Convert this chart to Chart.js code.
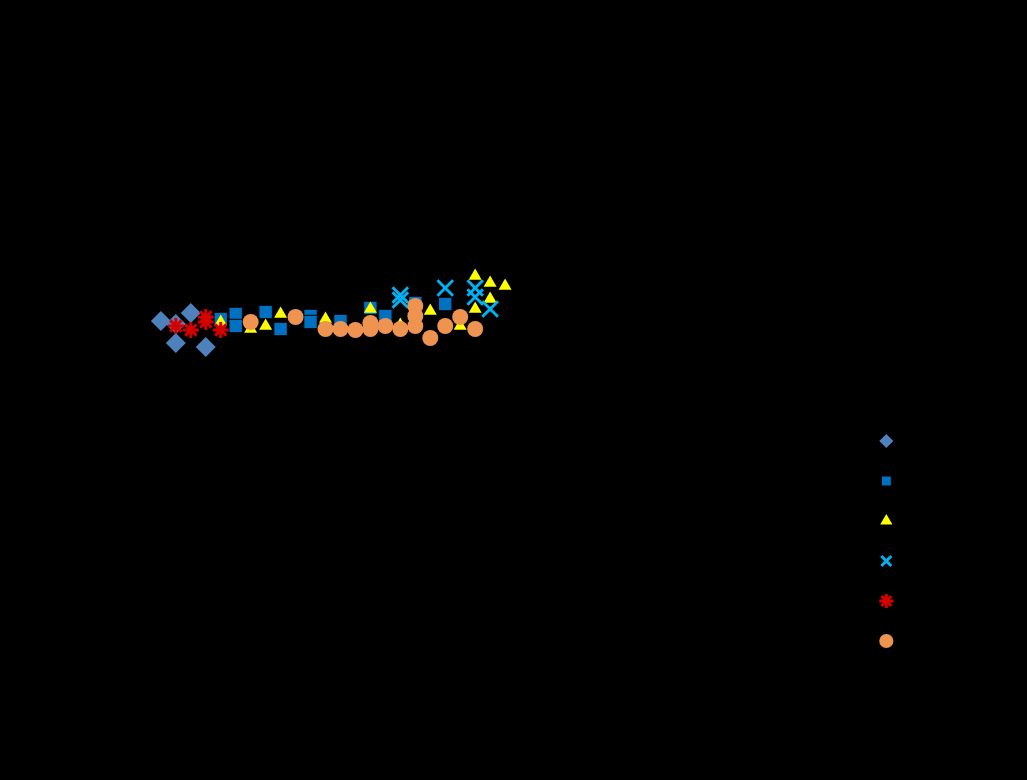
<!DOCTYPE html>
<html>
<head>
<meta charset="utf-8">
<script src="https://cdn.jsdelivr.net/npm/chart.js@4.4.1/dist/chart.umd.min.js"></script>
<style>
  html, body { margin: 0; padding: 0; background: #000; }
  #chart { display: block; }
</style>
</head>
<body>
<canvas id="chart" width="1027" height="780"></canvas>
<script>
// series names (legend text is black on black in the original)
const seriesNames = ['Series 1', 'Series 2', 'Series 3', 'Series 4', 'Series 5', 'Series 6'];

// sample position (x) and value (y) for each series
const diamondX = [1, 2, 2, 3, 4];
const diamondY = [38.0, 37.7, 35.8, 38.8, 35.4];

const squareX = [5, 6, 6, 8, 9, 11, 11, 13, 15, 16, 18, 20];
const squareY = [38.2, 38.7, 37.5, 38.9, 37.2, 38.5, 37.9, 38.0, 39.3, 38.5, 39.8, 39.7];

const triangleX = [5, 7, 8, 9, 12, 15, 17, 19, 21, 22, 22, 23, 23, 24];
const triangleY = [37.9, 37.2, 37.5, 38.7, 38.2, 39.2, 37.6, 39.0, 37.5, 42.5, 39.2, 41.8, 40.2, 41.5];

const crossX = [17, 17, 20, 22, 22, 23];
const crossY = [40.6, 40.1, 41.3, 41.3, 40.4, 39.2];

const starX = [2, 3, 4, 4, 5];
const starY = [37.5, 37.1, 38.4, 37.9, 37.1];

const circleX = [7, 10, 12, 13, 14, 15, 15, 16, 17, 18, 18, 18, 19, 20, 21, 22];
const circleY = [37.9, 38.4, 37.2, 37.2, 37.1, 37.2, 37.8, 37.5, 37.2, 39.5, 38.5, 37.5, 36.3, 37.5, 38.4, 37.2];

const pairs = (xs, ys) => xs.map((x, i) => ({x: x, y: ys[i]}));

const datasets = [
  {label: seriesNames[0], data: pairs(diamondX, diamondY), pointStyle: 'rectRot', pointRadius: 10,
   backgroundColor: '#4F81BD', borderColor: '#4F81BD', borderWidth: 0, order: 6},
  {label: seriesNames[1], data: pairs(squareX, squareY), pointStyle: 'rect', pointRadius: 9.5,
   backgroundColor: '#0070C0', borderColor: '#000', borderWidth: 1, order: 5},
  {label: seriesNames[2], data: pairs(triangleX, triangleY), pointStyle: 'triangle', pointRadius: 7.5,
   backgroundColor: '#FFFF00', borderColor: '#FFFF00', borderWidth: 0, order: 4},
  {label: seriesNames[3], data: pairs(crossX, crossY), pointStyle: 'crossRot', pointRadius: 11,
   backgroundColor: '#00B0F0', borderColor: '#00B0F0', borderWidth: 3, order: 3},
  {label: seriesNames[4], data: pairs(starX, starY), pointStyle: 'star', pointRadius: 8,
   backgroundColor: '#D40000', borderColor: '#D40000', borderWidth: 3, order: 2},
  {label: seriesNames[5], data: pairs(circleX, circleY), pointStyle: 'circle', pointRadius: 8,
   backgroundColor: '#EE9450', borderColor: '#EE9450', borderWidth: 0, order: 1}
];

new Chart(document.getElementById('chart'), {
  type: 'scatter',
  data: {datasets: datasets},
  options: {
    responsive: false,
    animation: false,
    layout: {padding: {left: 100, right: 84, top: 100, bottom: 80}},
    scales: {
      x: {type: 'linear', display: false, min: -3.067, max: 47.133},
      y: {type: 'linear', display: false, min: 0.1, max: 60.1}
    },
    plugins: {
      tooltip: {enabled: false},
      legend: {
        display: true,
        position: 'right',
        align: 'center',
        title: {display: true, text: ' ', color: '#000', font: {size: 10}, padding: {top: 0, bottom: 270}},
        labels: {
          usePointStyle: true,
          color: '#000',
          font: {size: 10},
          padding: 30,
          sort: (a, b) => a.datasetIndex - b.datasetIndex
        }
      }
    }
  }
});
</script>
</body>
</html>
